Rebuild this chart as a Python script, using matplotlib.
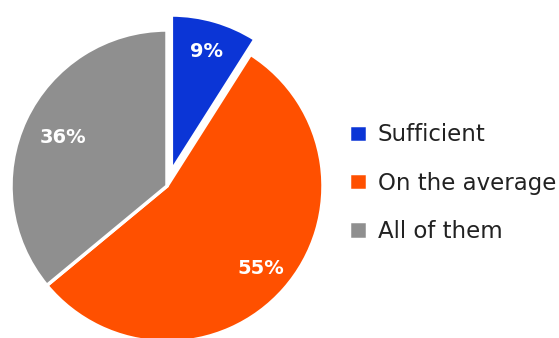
import matplotlib.pyplot as plt

labels = ["Sufficient", "On the average", "All of them"]
shares = [9, 55, 36]
colors = ["#0B35D6", "#FF5000", "#8F8F8F"]
explode = [0.1, 0, 0]

W, H, dpi = 559, 338, 100
fig = plt.figure(figsize=(W / dpi, H / dpi), dpi=dpi)

# pie centre and radius in pixels
cx, cy, r = 167, 338 - 186, 156
half = 1.15 * r
ax = fig.add_axes([(cx - half) / W, (cy - half) / H, 2 * half / W, 2 * half / H])

wedges, texts, autotexts = ax.pie(
    shares, colors=colors, explode=explode, startangle=90, counterclock=False,
    autopct="%d%%", pctdistance=0.8, radius=1,
    wedgeprops=dict(edgecolor="white", linewidth=2.5),
    textprops=dict(color="white", fontsize=14, fontweight="bold"),
)
# pull the 36% label a little towards the centre
x, y = autotexts[2].get_position()
autotexts[2].set_position((x * 0.92, y * 0.92))

# pie() resets the limits, so set them afterwards
ax.set_xlim(-1.15, 1.15)
ax.set_ylim(-1.15, 1.15)
ax.set_aspect("equal")
ax.axis("off")

leg = fig.legend(
    wedges, labels, loc="center left", bbox_to_anchor=(349 / W, (338 - 183) / H),
    frameon=False, fontsize=16.5, handlelength=0.8, handleheight=0.8,
    handletextpad=0.45, labelspacing=1.1, borderpad=0, borderaxespad=0,
)
for t in leg.get_texts():
    t.set_color("#222222")

fig.savefig("out.png", dpi=dpi)
